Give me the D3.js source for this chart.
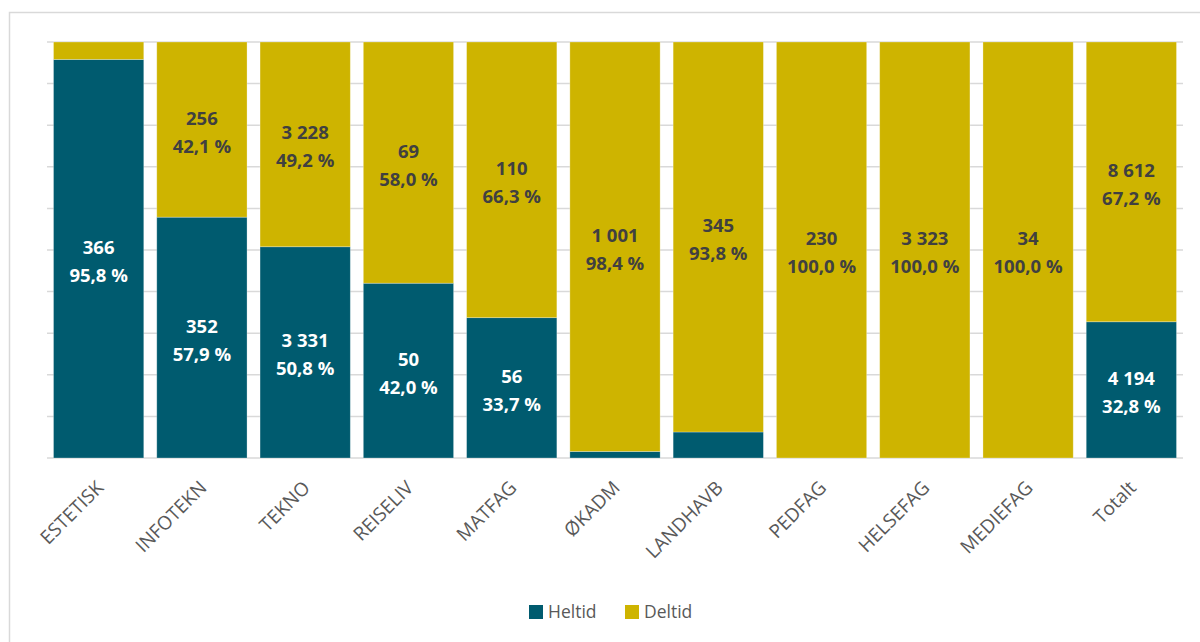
<!DOCTYPE html>
<html><head><meta charset="utf-8">
<script src="https://cdn.jsdelivr.net/npm/d3@7"></script>
<style>body{margin:0;background:#fff}svg{display:block}</style>
</head><body>
<svg id="c" width="1200" height="642"></svg>
<script>
const categories = ["ESTETISK","INFOTEKN","TEKNO","REISELIV","MATFAG","ØKADM","LANDHAVB","PEDFAG","HELSEFAG","MEDIEFAG","Totalt"];
const heltid = [366, 352, 3331, 50, 56, 16, 23, 0, 0, 0, 4194];
const deltid = [16, 256, 3228, 69, 110, 1001, 345, 230, 3323, 34, 8612];
const seriesNames = ["Heltid","Deltid"];
const yTicks = [0,0.1,0.2,0.3,0.4,0.5,0.6,0.7,0.8,0.9,1];

const colors = {Heltid:"#005B6F", Deltid:"#CEB400"};
const labelColors = {Heltid:"#ffffff", Deltid:"#404040"};
const font = "'Open Sans', sans-serif";

const svg = d3.select("#c");
const W = 1200, H = 642;
const m = {left:47, right:17, top:42, bottom:184};

// chart border
svg.append("rect").attr("x",9.5).attr("y",12.5).attr("width",1200).attr("height",700)
  .attr("fill","none").attr("stroke","#d9d9d9").attr("stroke-width",1.5);

const x = d3.scaleBand().domain(categories).range([m.left, W-m.right]).paddingInner(0.126).paddingOuter(0.063);
const y = d3.scaleLinear().domain([0,1]).range([H-m.bottom, m.top]);

// grid
svg.append("g").selectAll("line").data(yTicks).join("line")
  .attr("x1",m.left).attr("x2",W-m.right)
  .attr("y1",d=>y(d)).attr("y2",d=>y(d))
  .attr("stroke","#d9d9d9").attr("stroke-width",1.5);

const rows = categories.map((c,i)=>{
  const tot = heltid[i]+deltid[i];
  return {cat:c, Heltid:heltid[i]/tot, Deltid:deltid[i]/tot, nH:heltid[i], nD:deltid[i]};
});
const stack = d3.stack().keys(seriesNames)(rows);

const g = svg.append("g");
stack.forEach(s=>{
  g.append("g").selectAll("rect").data(s).join("rect")
    .attr("x",d=>x(d.data.cat))
    .attr("width",x.bandwidth())
    .attr("y",d=>y(d[1]))
    .attr("height",d=>Math.max(0,y(d[0])-y(d[1])))
    .attr("fill",colors[s.key])
    .attr("stroke","rgba(255,255,255,0.35)").attr("stroke-width",0.8);
});

const fmtN = n => d3.format(",")(n).replace(/,/g," ");
const fmtP = p => d3.format(".1f")(p*100).replace(".",",")+" %";

stack.forEach(s=>{
  const lg = svg.append("g");
  s.forEach(d=>{
    const p = d[1]-d[0];
    if (p < 0.1) return;
    const cx = x(d.data.cat)+x.bandwidth()/2;
    const cy = (y(d[0])+y(d[1]))/2;
    const n = s.key==="Heltid"? d.data.nH : d.data.nD;
    const t = lg.append("text").attr("text-anchor","middle")
      .attr("font-family",font).attr("font-weight","bold").attr("font-size",18.5)
      .attr("fill",labelColors[s.key]);
    t.append("tspan").attr("x",cx).attr("y",cy-5).text(fmtN(n));
    t.append("tspan").attr("x",cx).attr("y",cy+23).text(fmtP(p));
  });
});

// x axis labels
const xa = svg.append("g");
categories.forEach(c=>{
  const cx = x(c)+x.bandwidth()/2 + 6;
  const cy = H-m.bottom+31;
  xa.append("text").attr("transform",`translate(${cx},${cy}) rotate(-45)`)
    .attr("text-anchor","end").attr("font-family",font).attr("font-size",19)
    .attr("fill","#595959").text(c);
});

// legend
const leg = svg.append("g");
const legItems = [{k:"Heltid",x:529},{k:"Deltid",x:625}];
legItems.forEach(it=>{
  leg.append("rect").attr("x",it.x).attr("y",605).attr("width",14).attr("height",14).attr("fill",colors[it.k]);
  leg.append("text").attr("x",it.x+19).attr("y",618).attr("font-family",font).attr("font-size",17.5)
    .attr("fill","#595959").text(it.k);
});
</script>
</body></html>
